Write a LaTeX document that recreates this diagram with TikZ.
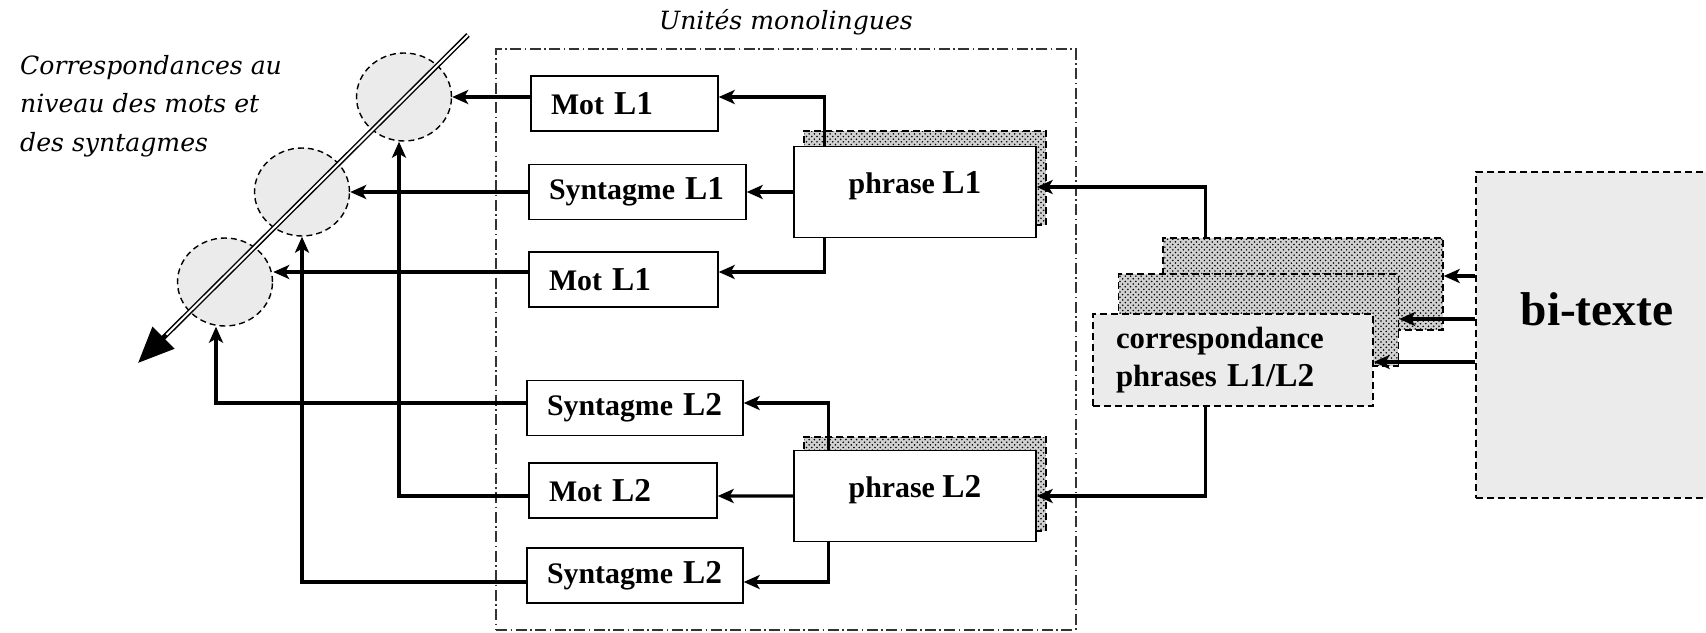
\documentclass[tikz,border=0pt]{standalone}
\usepackage{fontspec}
\setmainfont{Liberation Serif}
\newfontfamily\legfont{DejaVu Serif}
\usepackage{tikz}
\usetikzlibrary{positioning,arrows.meta,shapes.geometric,calc,patterns}
\definecolor{fondgris}{HTML}{EBEBEB}
\newcommand{\codeL}[1]{{\fontsize{19}{19}\selectfont #1}}

\begin{document}
\begin{tikzpicture}[x=0.02cm, y=-0.02cm,
  unite/.style={
    draw, line width=0.8pt, fill=white, minimum height=1.1cm,
    inner xsep=0.4cm, align=left, font=\fontsize{17}{18}\selectfont\bfseries
  },
  phrase/.style={
    draw, line width=0.8pt, fill=white, minimum width=4.84cm, minimum height=1.82cm,
    text depth=0.4cm, font=\fontsize{17}{18}\selectfont\bfseries
  },
  ombre/.style={
    draw, dash pattern=on 0.14cm off 0.08cm, line width=0.8pt,
    preaction={fill=black!18}, pattern=crosshatch dots, pattern color=black
  },
  grisbox/.style={
    draw, dash pattern=on 0.14cm off 0.08cm, line width=0.8pt, fill=fondgris
  },
  cercle/.style={
    ellipse, draw, dash pattern=on 0.12cm off 0.08cm, line width=0.8pt,
    fill=fondgris, minimum width=1.9cm, minimum height=1.76cm
  },
  groupe/.style={
    draw=black!80, line width=0.8pt,
    dash pattern=on 0.22cm off 0.07cm on 0.03cm off 0.07cm
  },
  legende/.style={font=\legfont\itshape\fontsize{14.3}{22}\selectfont, align=left},
  fleche/.style={line width=1.8pt, -{Stealth[length=0.32cm, width=0.28cm, inset=0.08cm]}}
]
\useasboundingbox (0,0) rectangle (1706,632);

% Cadre des unites monolingues
\node[groupe, minimum width=11.6cm, minimum height=11.62cm,
  label={[legende, label distance=0.14cm]above:Unités monolingues}] (mono) at (786,339.5) {};

% Legende
\node[legende, anchor=north west] (corresp) at (14,49)
  {Correspondances au\\niveau des mots et\\des syntagmes};

% Correspondances (cercles)
\node[cercle] (c1) at (404,97) {};
\node[cercle] (c2) at (302,192) {};
\node[cercle] (c3) at (225,282) {};

% Axe double
\coordinate (axeH) at (468,35);
\coordinate (axeB) at (138,363);
\draw[line width=0.1cm, -{Triangle[length=0.72cm, width=0.6cm]}] (axeH) -- (axeB);
\draw[white, line width=0.04cm, shorten >=0.8cm] (axeH) -- (axeB);

% Unites L1
\node[unite, text width=2.94cm] (motA) at (624.5,103.5) {Mot \codeL{L1}};
\node[unite, text width=3.54cm] (synA) at (637.5,192) {Syntagme \codeL{L1}};
\node[unite, text width=2.98cm] (motB) at (623.5,279.5) {Mot \codeL{L1}};

% Unites L2
\node[unite, text width=3.52cm] (synB) at (635,408) {Syntagme \codeL{L2}};
\node[unite, text width=2.96cm] (motC) at (623,490.5) {Mot \codeL{L2}};
\node[unite, text width=3.52cm] (synC) at (635,575.5) {Syntagme \codeL{L2}};

% Phrases
\node[ombre, minimum width=4.84cm, minimum height=1.88cm] (phrAs) at (925,178) {};
\node[phrase] (phrA) at (915,192) {phrase \codeL{L1}};
\node[ombre, minimum width=4.84cm, minimum height=1.88cm] (phrBs) at (925,484) {};
\node[phrase] (phrB) at (915,496) {phrase \codeL{L2}};

% Correspondance des phrases
\node[ombre, minimum width=5.6cm, minimum height=1.84cm] (corrC) at (1303,284) {};
\node[ombre, minimum width=5.6cm, minimum height=1.84cm] (corrB) at (1258.5,320) {};
\node[grisbox, minimum width=5.6cm, minimum height=1.84cm, text width=4.68cm,
  inner xsep=0.46cm, align=left, font=\fontsize{17.5}{21.5}\selectfont\bfseries] (corrA) at (1233,360)
  {correspondance\\phrases \codeL{L1/L2}};

% Bi-texte
\node[grisbox, minimum width=4.84cm, minimum height=6.52cm, text depth=1.04cm,
  font=\fontsize{27}{30}\selectfont\bfseries] (bitexte) at (1597,335) {bi-texte};

% bi-texte -> correspondances
\draw[fleche] ($(bitexte.west)+(0,-59)$) coordinate (b1) -- (b1 -| corrC.east);
\draw[fleche] ($(bitexte.west)+(0,-16)$) coordinate (b2) -- (b2 -| corrB.east);
\draw[fleche] ($(bitexte.west)+(0,27)$) coordinate (b3) -- (b3 -| corrA.east);

% correspondances -> phrases
\draw[fleche] ($(corrC.north west)+(43,0)$) |- ($(phrA.east)+(0,-5)$);
\draw[fleche] ($(corrA.south west)+(113,0)$) |- (phrB.east);

% phrases -> unites
\draw[fleche] ($(phrA.north west)+(31,0)$) |- ($(motA.east)+(0,-6.5)$);
\draw[fleche] (phrA.west) -- (synA.east);
\draw[fleche] ($(phrA.south west)+(31,0)$) |- ($(motB.east)+(0,-7.5)$);
\draw[fleche] ($(phrB.north west)+(35,0)$) |- ($(synB.east)+(0,-5)$);
\draw[fleche] (phrB.west) -- ($(motC.east)+(0,5.5)$);
\draw[fleche] ($(phrB.south west)+(35,0)$) |- ($(synC.east)+(0,6.5)$);

% unites -> correspondances
\draw[fleche] ($(motA.west)+(0,-6.5)$) -- (c1.east);
\draw[fleche] (synA.west) -- (c2.east);
\draw[fleche] ($(motB.west)+(0,-7.5)$) coordinate (r3) -- (r3 -| c3.east);
\draw[fleche] ($(synB.west)+(0,-5)$) -| ($(c3.south)+(-9,0)$);
\draw[fleche] ($(motC.west)+(0,5.5)$) -| ($(c1.south)+(-5,0)$);
\draw[fleche] ($(synC.west)+(0,6.5)$) -| (c2.south);
\end{tikzpicture}
\end{document}
